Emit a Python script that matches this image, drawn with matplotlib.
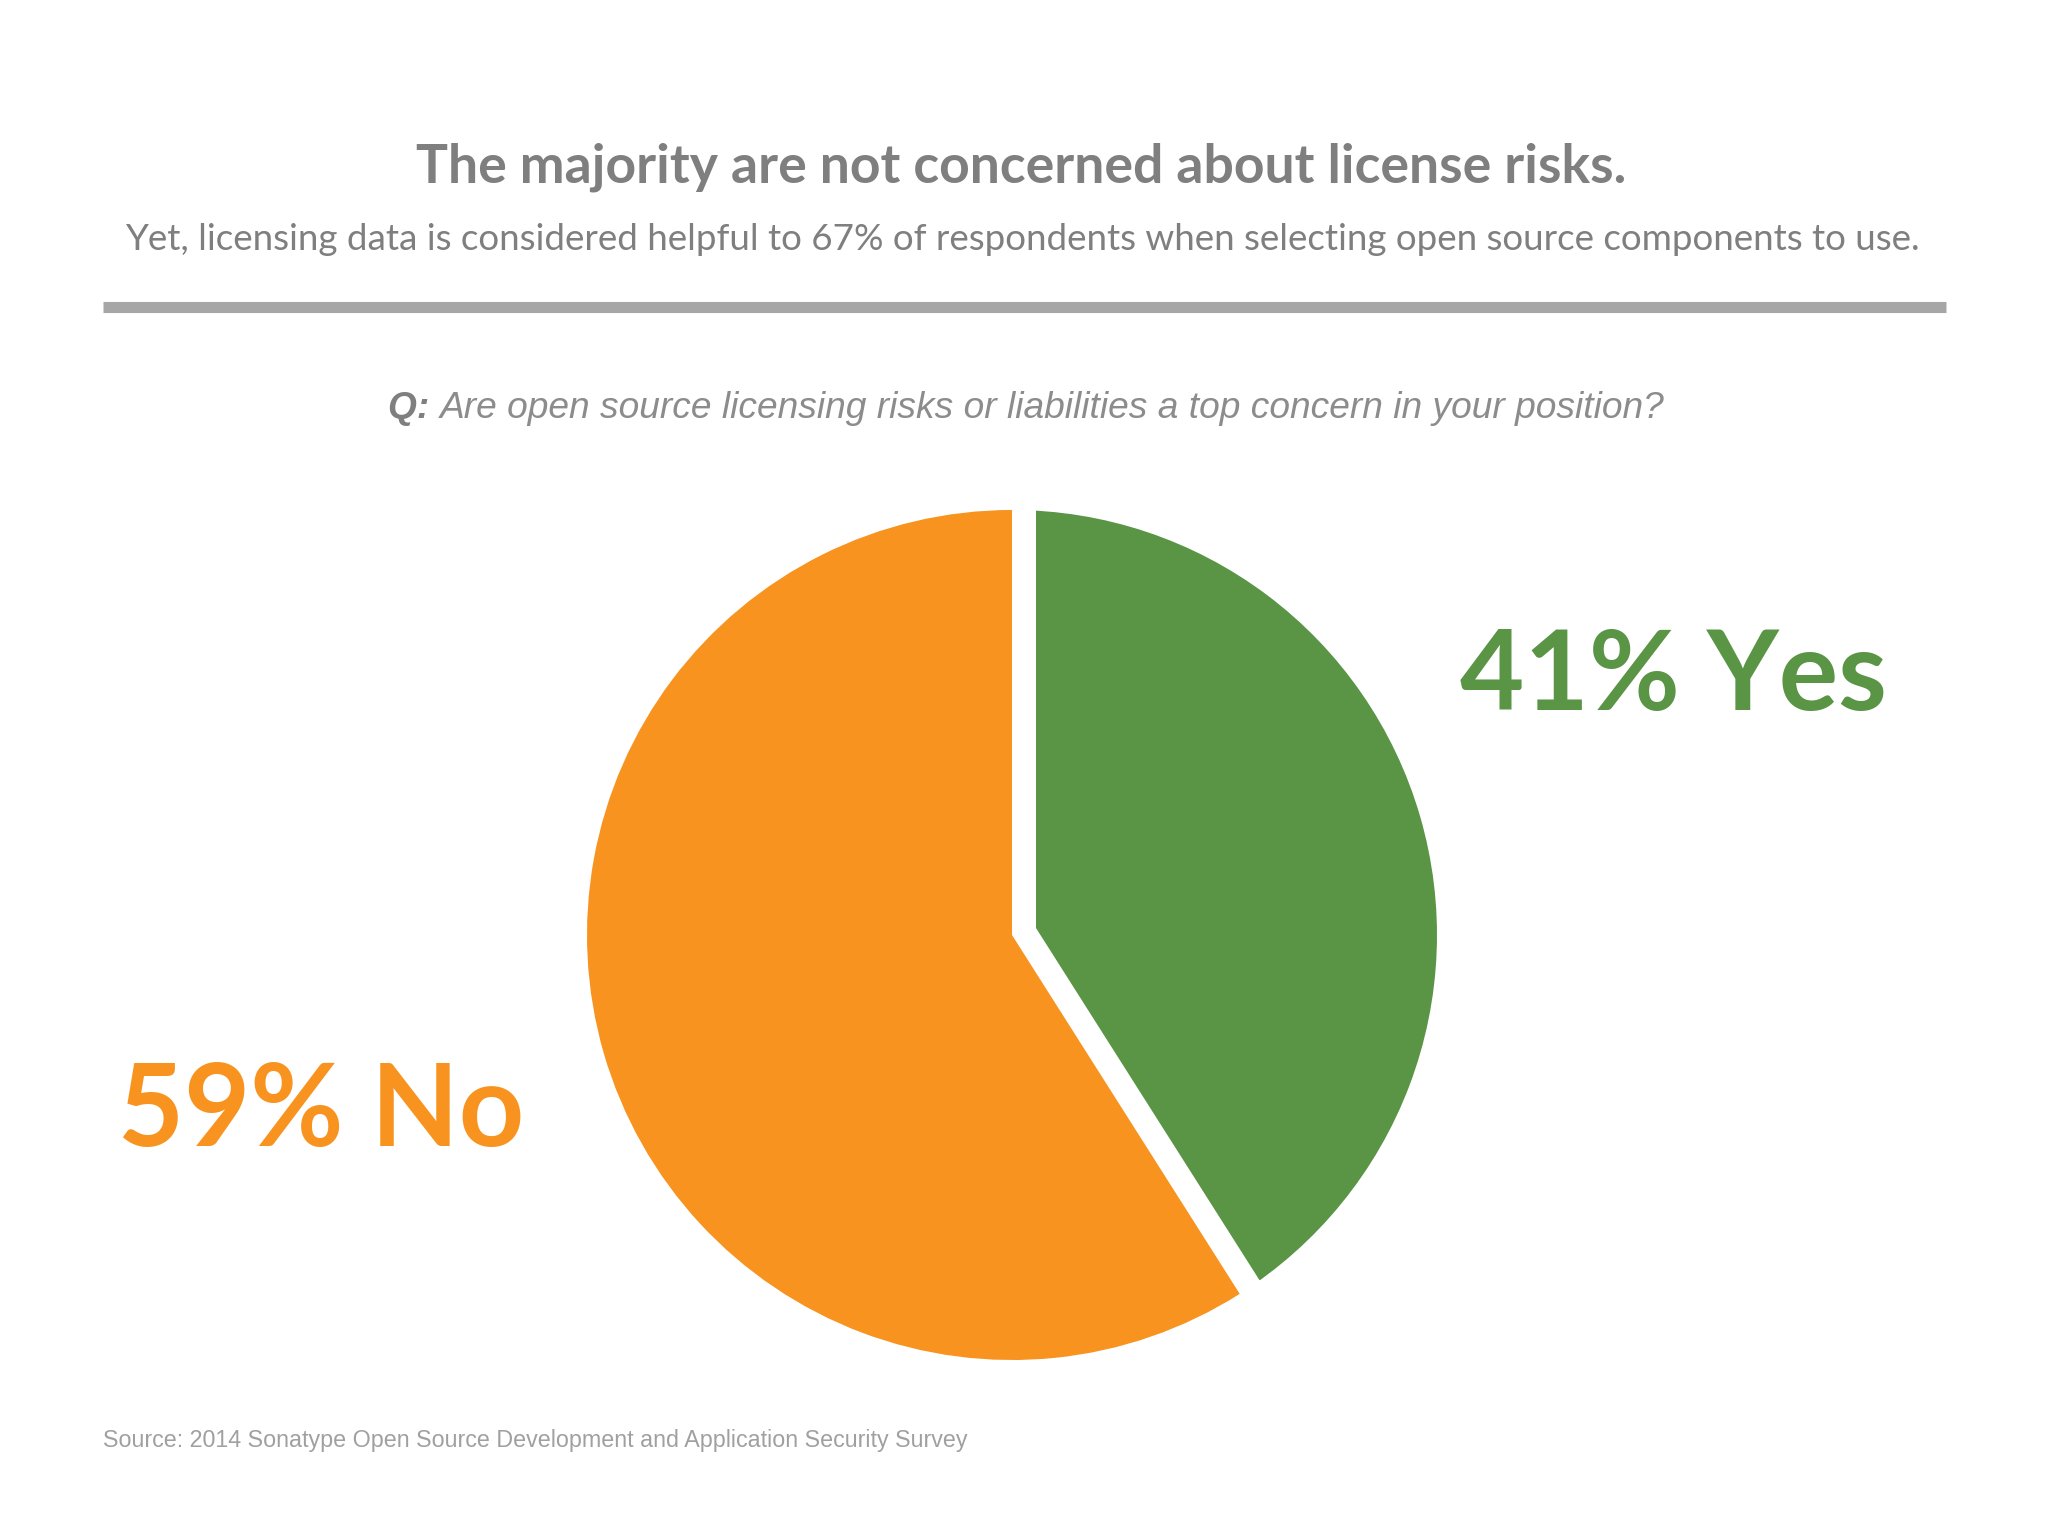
import matplotlib
matplotlib.use('Agg')
import matplotlib.pyplot as plt

# данные опроса
labels = ['Yes', 'No']
shares = [41, 59]
colors = ['#5A9445', '#F7931E']

title = 'The majority are not concerned about license risks.'
subtitle = ('Yet, licensing data is considered helpful to 67% of respondents '
            'when selecting open source components to use.')
question = 'Are open source licensing risks or liabilities a top concern in your position?'
source = 'Source: 2014 Sonatype Open Source Development and Application Security Survey'

W, H = 2048, 1536
fig = plt.figure(figsize=(W / 100, H / 100), dpi=100)
ax = fig.add_axes([0, 0, 1, 1])
ax.set_xlim(0, W)
ax.set_ylim(0, H)
ax.set_aspect('equal')
ax.axis('off')

sans = ['Liberation Sans', 'DejaVu Sans']


def fit(t, width):
    # подгоняем размер шрифта под нужную ширину в пикселях
    fig.canvas.draw()
    w = t.get_window_extent().width
    t.set_fontsize(t.get_fontsize() * width / w)


# круговая диаграмма; белая щель вырезается только со стороны Yes
R, gap = 425, 24
wedges, _ = ax.pie(shares, colors=colors, startangle=90, counterclock=False,
                   center=(1012, H - 935), radius=R,
                   wedgeprops=dict(linewidth=0))
yes, no = wedges
yes.set_radius(R + gap)
yes.set_edgecolor('white')
yes.set_linewidth(2 * gap * 0.72)
yes.set_joinstyle('miter')
yes.set_zorder(1)
no.set_zorder(2)
ax.set_xlim(0, W)
ax.set_ylim(0, H)

# заголовки
ax.text(1021, H - 167, title, ha='center', va='center', fontsize=38.5,
        fontweight='bold', color='#7F7F7F', family='Lato')
ax.text(1022, H - 240, subtitle, ha='center', va='center', fontsize=26.5,
        color='#7F7F7F', family='Lato')
ax.plot([103, 1946], [H - 307, H - 307], color='#A6A6A6', lw=8,
        solid_capstyle='butt')

# вопрос
q1 = ax.text(388, H - 409, 'Q: ', ha='left', va='center', fontsize=26,
             fontweight='bold', fontstyle='italic', color='#7F7F7F', family=sans)
q2 = ax.text(430, H - 409, question, ha='left', va='center', fontsize=26,
             fontstyle='italic', color='#8C8C8C', family=sans)
fit(q2, 1274 - 50)
fig.canvas.draw()
q1.set_fontsize(q2.get_fontsize())
fig.canvas.draw()
q2.set_x(q1.get_window_extent().x1)

# подписи долей
ax.text(1460, H - 678, f'{shares[0]}% {labels[0]}', ha='left', va='center',
        fontsize=80, fontweight='bold', color=colors[0], family='Lato')
ax.text(118, H - 1113, f'{shares[1]}% {labels[1]}', ha='left', va='center',
        fontsize=82, fontweight='bold', color=colors[1], family='Lato')

src = ax.text(103, H - 1440, source, ha='left', va='center', fontsize=20,
              color='#A0A0A0', family=sans)
fit(src, 861)

fig.savefig('out.png', dpi=100)
